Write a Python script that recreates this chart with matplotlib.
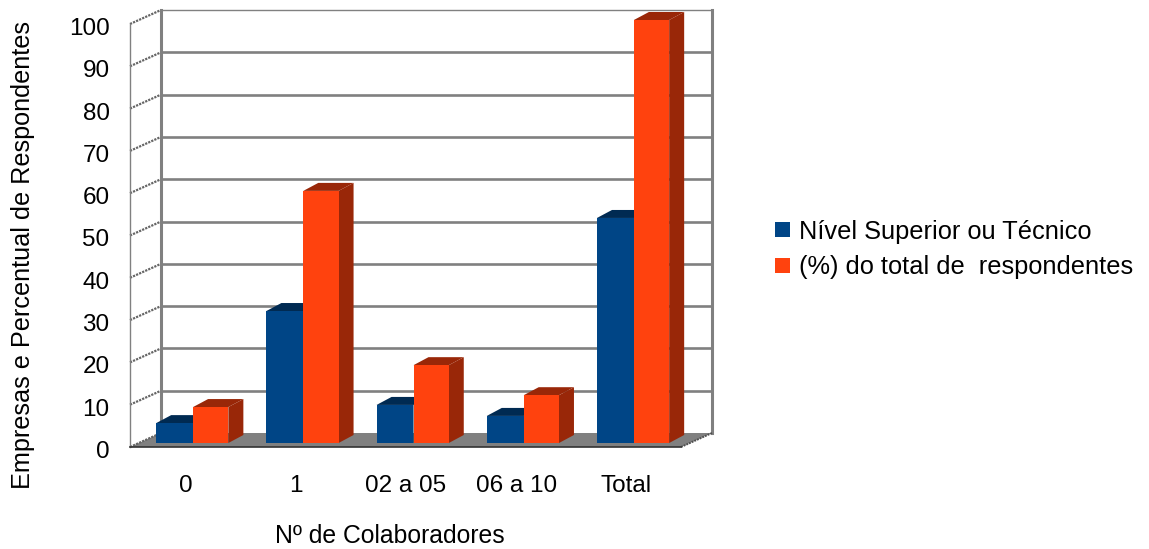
#!/usr/bin/env python3
"""Clustered bars in oblique 3D: staff level vs. share of respondents."""
import matplotlib; matplotlib.use("Agg")
import matplotlib.pyplot as plt
from matplotlib.patches import Polygon
from matplotlib.transforms import ScaledTranslation

categories = ["0", "1", "02 a 05", "06 a 10", "Total"]
nivel_superior = [4.7, 31.2, 9.0, 6.4, 53.2]
pct_total = [8.5, 59.6, 18.4, 11.3, 100]
yticks = list(range(0, 101, 10))
series_names = ["Nível Superior ou Técnico", "(%) do total de  respondentes"]

BLUE = "#004586"; BLUE_DK = "#002A52"
ORANGE = "#FF420E"; ORANGE_DK = "#992708"
GREY = "#808080"
W, H = 1149, 549
plt.rcParams.update({"font.family": ["Liberation Sans", "DejaVu Sans"]})

fig = plt.figure(figsize=(W/100, H/100), dpi=100)
# axes = the plane holding the bar fronts (pixels 138..689 wide, 20..443 down)
ax = fig.add_axes([138/W, (H-443)/H, 551/W, 423/H])
ax.set_xlim(-0.5, 4.5); ax.set_ylim(0, 100)
for s in ax.spines.values():
    s.set_visible(False)
ax.patch.set_visible(False)

px = 5/551    # data units per pixel, x
py = 100/423  # data units per pixel, y
x0, x1 = -0.5, 4.5

def shift(x, y, dx, dy):
    # move a data point by a depth offset given in pixels (dy up)
    return x + dx*px, y + dy*py

# depth offsets of floor front edge and back wall relative to the bar plane
FRONT = (-8, -4); BACK = (23, 10); BAR = (15, 8)

# floor
floor = [shift(x0, 0, *FRONT), shift(x1, 0, *FRONT), shift(x1, 0, *BACK), shift(x0, 0, *BACK)]
ax.add_patch(Polygon(floor, closed=True, fc=GREY, ec="none", clip_on=False, zorder=1))
fx, fy = zip(shift(x0, 0, *FRONT), shift(x1, 0, *FRONT))
ax.plot(fx, fy, color="#333333", lw=1.2, clip_on=False, zorder=1.5)

# back wall gridlines, and their run along the left and right sides
for v in yticks:
    a = shift(x0, v, *FRONT); b = shift(x0, v, *BACK); c = shift(x1, v, *BACK)
    lw = 1.0 if v == 100 else 1.9
    if v > 0:
        ax.plot([b[0], c[0]], [b[1], c[1]], color=GREY, lw=lw, clip_on=False, zorder=1)
    ax.plot([a[0], b[0]], [a[1], b[1]], color="#666666", lw=1.6, ls=(0, (1, 0.5)), clip_on=False, zorder=1)
a = shift(x1, 0, *BACK); d = shift(x1, 0, *FRONT)
ax.plot([a[0], d[0]], [a[1], d[1]], color="#505050", lw=1.4, ls=(0, (1, 0.5)), clip_on=False, zorder=1.2)

# wall uprights
for xv, dep, lw in [(x0, BACK, 2.2), (x1, BACK, 2.2), (x0, FRONT, 1.0)]:
    p = shift(xv, 0, *dep); q = shift(xv, 100, *dep)
    ax.plot([p[0], q[0]], [p[1], q[1]], color=GREY, lw=lw, clip_on=False, zorder=1)

# bars: front face through ax.bar, side and top faces from the same values
xpos = list(range(len(categories)))
handles = []
for lead, bw, vals, fc, dk, name in [(-0.335, 0.335, nivel_superior, BLUE, BLUE_DK, series_names[0]),
                                     (0, 0.32, pct_total, ORANGE, ORANGE_DK, series_names[1])]:
    z = 3 if fc == BLUE else 4
    for x, v in zip(xpos, vals):
        l = x + lead; r = l + bw
        side = [(r, 0), shift(r, 0, *BAR), shift(r, v, *BAR), (r, v)]
        top = [(l, v), (r, v), shift(r, v, *BAR), shift(l, v, *BAR)]
        ax.add_patch(Polygon(side, closed=True, fc=dk, ec="none", clip_on=False, zorder=z))
        ax.add_patch(Polygon(top, closed=True, fc=dk, ec="none", clip_on=False, zorder=z))
    bars = ax.bar([x + lead for x in xpos], vals, bw, align="edge", color=fc, label=name,
                  zorder=z+0.5, clip_on=False)
    handles.append(bars)

# ticks
ax.set_yticks(yticks); ax.set_xticks(xpos); ax.set_xticklabels(categories)
ax.tick_params(axis="both", length=0, labelsize=17.5)
ax.tick_params(axis="y", pad=20.5)
ax.tick_params(axis="x", pad=23)
for lab in ax.get_yticklabels():
    lab.set_transform(lab.get_transform() + ScaledTranslation(0, -6.5/100, fig.dpi_scale_trans))
for lab in ax.get_xticklabels():
    lab.set_transform(lab.get_transform() + ScaledTranslation(-7.5/100, 0, fig.dpi_scale_trans))

fig.text(390/W, 1-536/H, "Nº de Colaboradores", ha="center", va="center", fontsize=17.8)
fig.text(23/W, 1-255/H, "Empresas e Percentual de Respondentes", rotation=90,
         ha="center", va="center", fontsize=18.2)

fig.legend(handles=handles, loc="center left", bbox_to_anchor=(775/W, 1-249.5/H), frameon=False,
           fontsize=18.3, handlelength=0.58, handleheight=0.58, handletextpad=0.36, labelspacing=0.47,
           borderpad=0, borderaxespad=0)

fig.savefig("out.png", dpi=100)
